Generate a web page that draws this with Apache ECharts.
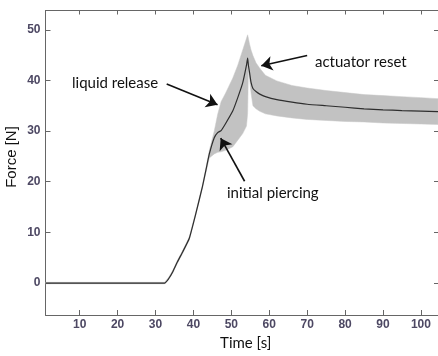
<!DOCTYPE html>
<html><head><meta charset="utf-8">
<script src="https://cdn.jsdelivr.net/npm/echarts@6/dist/echarts.min.js"></script>
<style>html,body{margin:0;padding:0;background:#fff}#c{width:438px;height:356px}</style>
</head><body><div id="c"></div>
<script>
const time  = [1, 32.4, 33.5, 34.6, 35.8, 37.2, 38.9, 40.7, 42.4, 43.3, 44.2, 45.5, 46.4, 47.3, 48.5, 50.4, 51.7, 53.0, 54.0, 54.3, 54.5, 54.8, 55.2, 55.7, 56.5, 57.5, 59, 62, 66, 70, 75, 80, 85, 90, 95, 100, 104.5];
const meanF = [0, 0, 0.9, 2.3, 4.2, 6.2, 8.8, 13.9, 19.1, 22.3, 25.5, 28.7, 29.7, 30.1, 31.5, 34.0, 36.6, 39.5, 43.0, 44.4, 43.0, 41.6, 39.6, 38.4, 37.8, 37.3, 36.8, 36.2, 35.7, 35.3, 35.0, 34.7, 34.4, 34.2, 34.05, 33.95, 33.85];
const upperF = [0.15, 0.15, 1.15, 2.6, 4.5, 6.5, 9.1, 14.2, 19.4, 22.7, 26.2, 30.0, 33.3, 35.8, 37.5, 40.5, 43.0, 46.0, 48.3, 49.0, 48.3, 47.2, 46.0, 44.9, 43.5, 42.4, 41.0, 39.9, 39.0, 38.5, 38.0, 37.6, 37.2, 37.0, 36.8, 36.6, 36.4];
const lowerF = [-0.15, -0.15, 0.7, 2.0, 3.9, 5.9, 8.5, 13.6, 18.8, 21.8, 24.7, 25.5, 25.8, 25.9, 26.2, 26.9, 28.2, 29.5, 31.0, 33.5, 42.0, 40.5, 37.5, 35.0, 34.4, 33.9, 33.4, 33.0, 32.6, 32.3, 32.1, 31.9, 31.8, 31.6, 31.5, 31.4, 31.3];
const xTicks = [10, 20, 30, 40, 50, 60, 70, 80, 90, 100];
const yTicks = [0, 10, 20, 30, 40, 50];
const annotations = [
  {text: 'liquid release', from: [32.96, 39.3], to: [46.37, 35.2]},
  {text: 'actuator reset', from: [70.0, 44.9], to: [57.9, 42.9]},
  {text: 'initial piercing', from: [53.5, 20.1], to: [47.2, 28.6]}
];

const X_MIN = 1, X_MAX = 104.5, Y_MIN = -6.3, Y_MAX = 53.8;
const labelColor = '#4d4863';
const axisColor = '#666';
const annFont = 'Lato';

const chart = echarts.init(document.getElementById('c'), null, {renderer: 'canvas'});
const pairs = (ys) => time.map((t, i) => [t, ys[i]]);

const baseX = {type: 'value', min: X_MIN, max: X_MAX, splitLine: {show: false},
  axisLine: {show: true, onZero: false, lineStyle: {color: axisColor, width: 1}}};
const baseY = {type: 'value', min: Y_MIN, max: Y_MAX, splitLine: {show: false},
  axisLine: {show: true, onZero: false, lineStyle: {color: axisColor, width: 1}}};

chart.setOption({
  animation: false,
  backgroundColor: '#fff',
  grid: {left: 45.5, right: -1, top: 10.5, bottom: 34.3, containLabel: false},
  xAxis: [
    Object.assign({}, baseX, {position: 'bottom',
      axisTick: {show: true, inside: true, length: 5, customValues: xTicks, lineStyle: {color: axisColor}},
      axisLabel: {show: true, customValues: xTicks, margin: 4, color: labelColor, fontFamily: 'Liberation Sans', fontSize: 12, fontWeight: 'bold'},
      name: 'Time [s]', nameLocation: 'middle', nameGap: 21,
      nameTextStyle: {fontFamily: annFont, fontSize: 15, color: '#111', padding: [0, 0, 0, 8]}}),
    Object.assign({}, baseX, {position: 'top',
      axisTick: {show: true, inside: true, length: 4, customValues: xTicks, lineStyle: {color: axisColor}},
      axisLabel: {show: false}})
  ],
  yAxis: [
    Object.assign({}, baseY, {position: 'left',
      axisTick: {show: true, inside: true, length: 5, customValues: yTicks, lineStyle: {color: axisColor}},
      axisLabel: {show: true, customValues: yTicks, margin: 5, color: labelColor, fontFamily: 'Liberation Sans', fontSize: 12, fontWeight: 'bold'}}),
    Object.assign({}, baseY, {position: 'right',
      axisTick: {show: true, inside: true, length: 4, customValues: yTicks, lineStyle: {color: axisColor}},
      axisLabel: {show: false}})
  ],
  series: [
    {type: 'custom', name: 'band', silent: true, z: 1,
      data: [0],
      clip: true,
      renderItem: function (params, api) {
        const pts = [];
        for (let i = 0; i < time.length; i++) pts.push(api.coord([time[i], upperF[i]]));
        for (let i = time.length - 1; i >= 0; i--) pts.push(api.coord([time[i], lowerF[i]]));
        return {type: 'polygon', shape: {points: pts}, style: {fill: '#c2c2c2', stroke: '#c8c8c8', lineWidth: 0.5}};
      }},
    {type: 'line', name: 'mean', data: pairs(meanF), symbol: 'none', smooth: 0.15,
      lineStyle: {color: '#2e2e2e', width: 1.2}, z: 5,
      markLine: {silent: true, symbol: ['none', 'arrow'], symbolSize: 11,
        label: {show: false},
        lineStyle: {color: '#111', width: 1.6, type: 'solid'},
        data: annotations.map(a => [{coord: a.from}, {coord: a.to}])}}
  ],
  graphic: [
    {type: 'text', z: 100, left: 72, top: 76, style: {text: 'liquid release', font: '15px ' + annFont, fill: '#111'}},
    {type: 'text', z: 100, left: 315, top: 55, style: {text: 'actuator reset', font: '15px ' + annFont, fill: '#111'}},
    {type: 'text', z: 100, left: 227, top: 186, style: {text: 'initial piercing', font: '15px ' + annFont, fill: '#111'}},
    {type: 'text', z: 100, x: 4, y: 157, rotation: Math.PI / 2,
      style: {text: 'Force [N]', font: '15px "Liberation Sans"', fill: '#111', align: 'center', verticalAlign: 'top'}}
  ]
});
</script></body></html>
